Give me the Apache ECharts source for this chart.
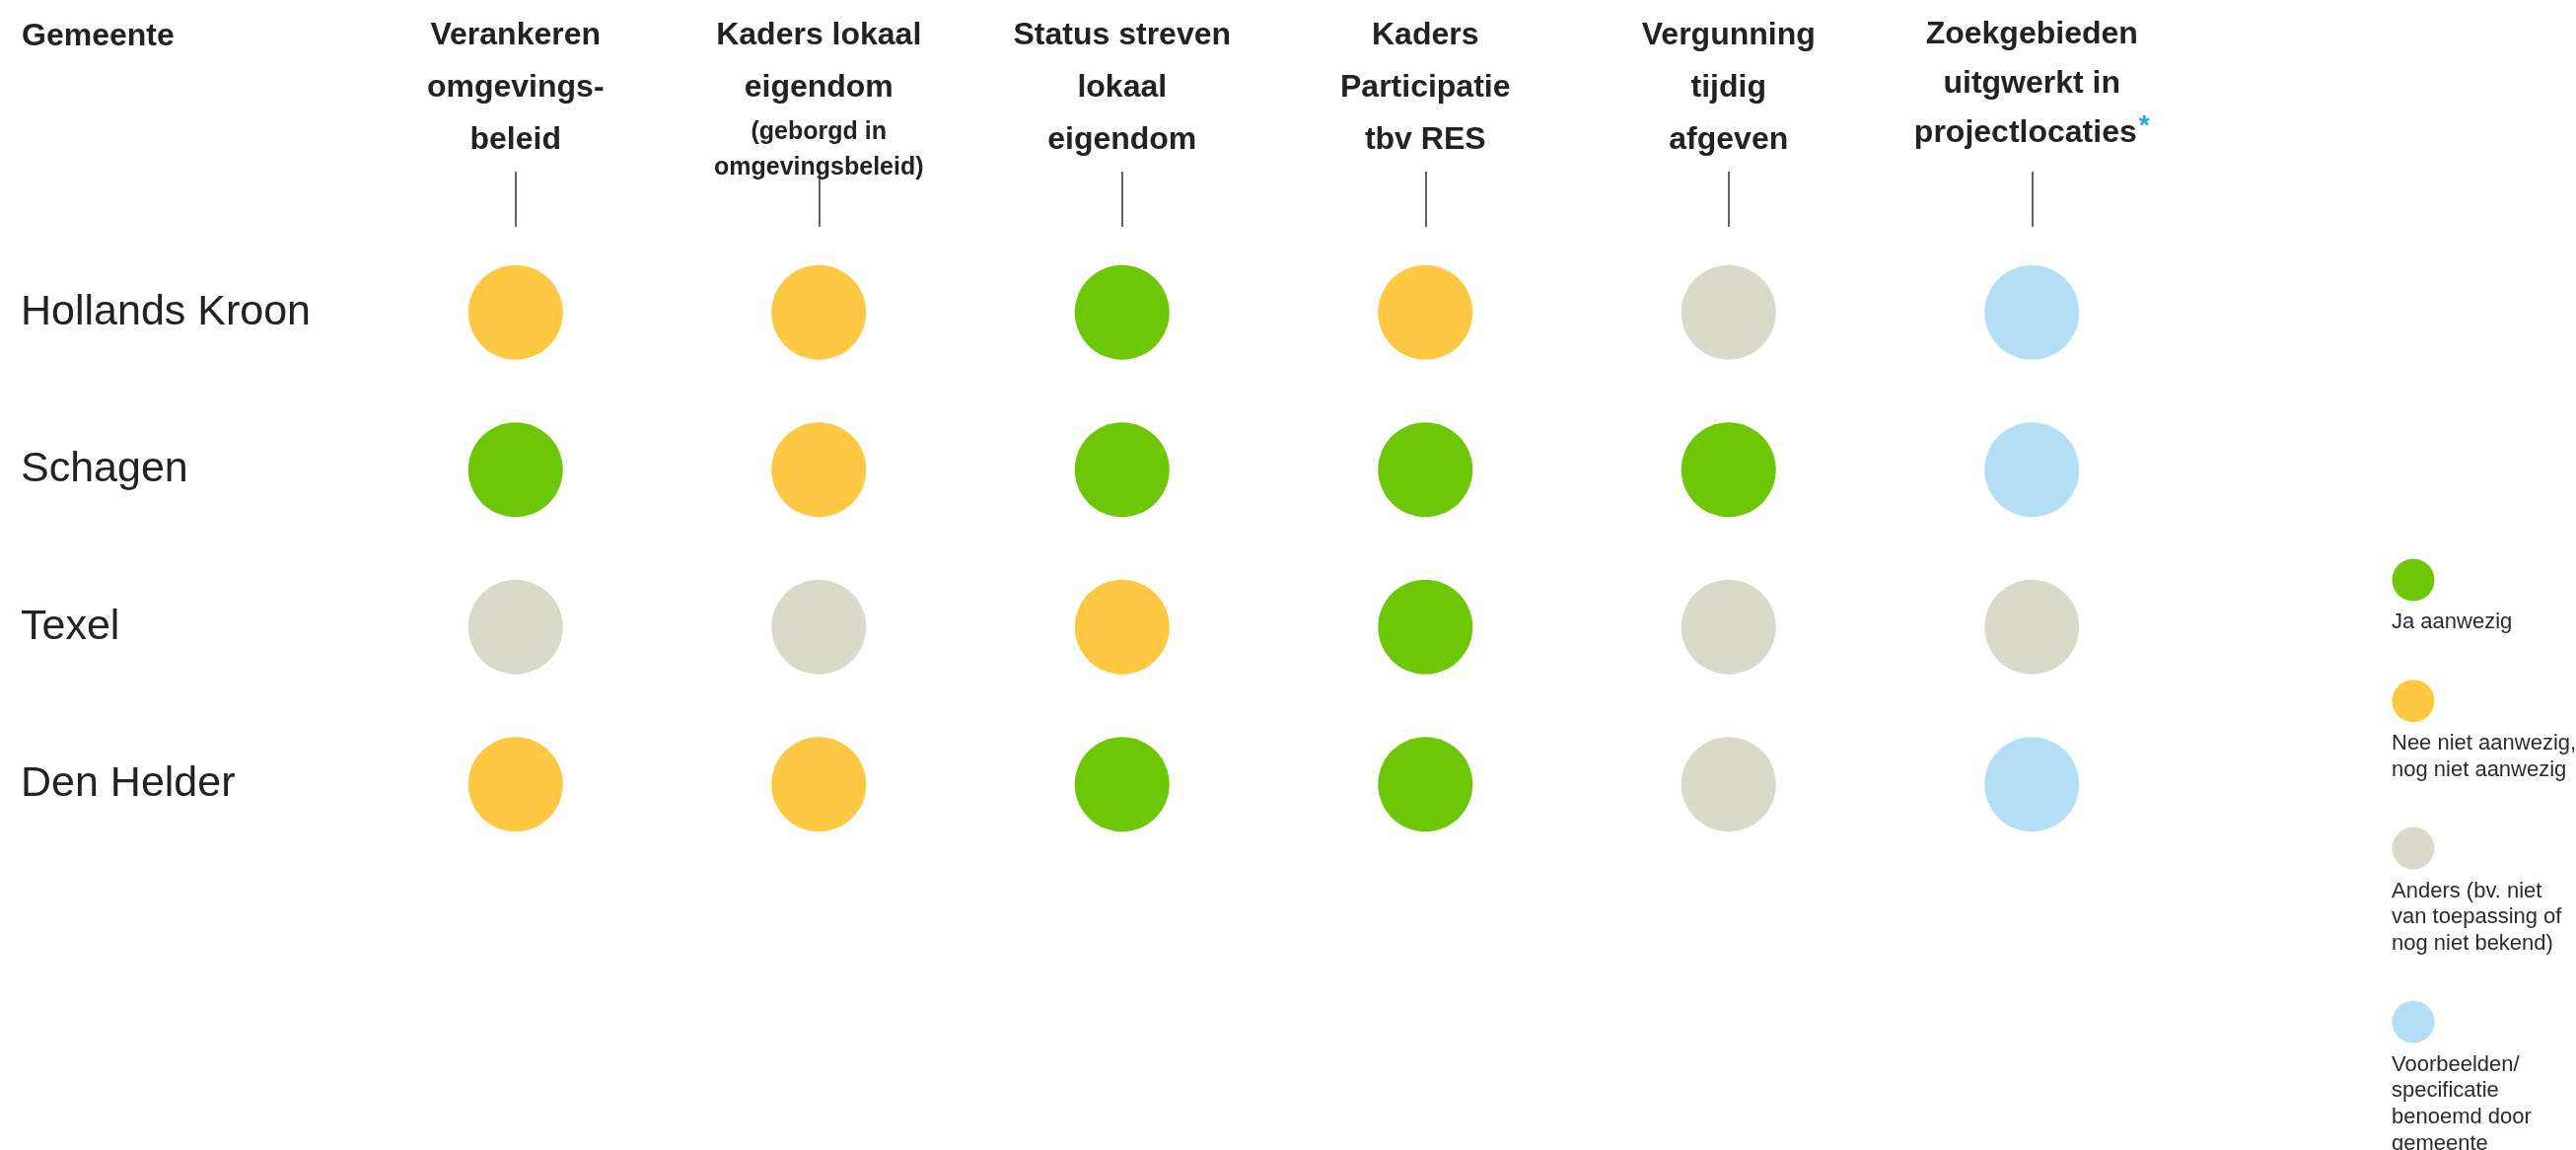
<!DOCTYPE html>
<html>
<head>
<meta charset="utf-8">
<script src="https://cdn.jsdelivr.net/npm/echarts@6/dist/echarts.min.js"></script>
<style>
html,body{margin:0;padding:0;background:#fff;}
#chart{width:2612px;height:1166px;}
</style>
</head>
<body>
<div id="chart"></div>
<script>
// ---- data ----
const gemeenten = ['Hollands Kroon', 'Schagen', 'Texel', 'Den Helder'];
const criteria = [
  'Verankeren omgevings-beleid',
  'Kaders lokaal eigendom (geborgd in omgevingsbeleid)',
  'Status streven lokaal eigendom',
  'Kaders Participatie tbv RES',
  'Vergunning tijdig afgeven',
  'Zoekgebieden uitgwerkt in projectlocaties*'
];
const criteriaMain = [
  ['Verankeren', 'omgevings-', 'beleid'],
  ['Kaders lokaal', 'eigendom'],
  ['Status streven', 'lokaal', 'eigendom'],
  ['Kaders', 'Participatie', 'tbv RES'],
  ['Vergunning', 'tijdig', 'afgeven'],
  ['Zoekgebieden', 'uitgwerkt in', 'projectlocaties']
];
const criteriaSub = [[], ['(geborgd in', 'omgevingsbeleid)'], [], [], [], []];
const criteriaStar = [false, false, false, false, false, true];

const statusKeys = ['ja', 'nee', 'anders', 'voorbeeld'];
const statusLabels = [
  'Ja aanwezig',
  'Nee niet aanwezig,\nnog niet aanwezig',
  'Anders (bv. niet\nvan toepassing of\nnog niet bekend)',
  'Voorbeelden/\nspecificatie\nbenoemd door\ngemeente'
];
const statusColors = ['#6EC706', '#FEC843', '#DADACA', '#B4DEF6'];

const hollandsKroon = ['nee', 'nee', 'ja', 'nee', 'anders', 'voorbeeld'];
const schagen       = ['ja', 'nee', 'ja', 'ja', 'ja', 'voorbeeld'];
const texel         = ['anders', 'anders', 'nee', 'ja', 'anders', 'anders'];
const denHelder     = ['nee', 'nee', 'ja', 'ja', 'anders', 'voorbeeld'];
const matrix = [hollandsKroon, schagen, texel, denHelder];

// ---- build ----
const series = statusKeys.map((key, si) => {
  const data = [];
  matrix.forEach((row, ri) => {
    row.forEach((s, ci) => { if (s === key) data.push([ci, ri]); });
  });
  return {
    name: statusLabels[si],
    type: 'scatter',
    data: data,
    symbol: 'circle',
    symbolSize: 96,
    itemStyle: { color: statusColors[si], opacity: 1 },
    emphasis: { disabled: true }
  };
});

// legend drawn as graphic (icon above text)
const legendGraphic = [];
const legendX = 2425;
const legendGaps = [44, 44, 44];
let ly = 566;
statusLabels.forEach((lab, i) => {
  const lines = lab.split('\n').length;
  legendGraphic.push({
    type: 'circle',
    shape: { cx: legendX + 22, cy: ly + 22, r: 21.5 },
    style: { fill: statusColors[i] }
  });
  legendGraphic.push({
    type: 'text',
    x: legendX, y: ly + 52,
    style: {
      text: lab, fill: '#2b2b2b',
      font: '22px "Liberation Sans", Arial, sans-serif',
      lineHeight: 26.7
    }
  });
  ly += 52 + lines * 26.7 + (legendGaps[i] || 0);
});

const FONT = '"Liberation Sans", Arial, sans-serif';
const chart = echarts.init(document.getElementById('chart'), null, { renderer: 'canvas' });
chart.setOption({
  backgroundColor: '#ffffff',
  animation: false,
  title: {
    text: 'Gemeente',
    left: 17, top: 16,
    textStyle: { fontFamily: FONT, fontSize: 32, fontWeight: 'bold', color: '#222' }
  },
  grid: { left: 369, top: 237, width: 1845, height: 638, containLabel: false },
  xAxis: {
    type: 'category',
    position: 'top',
    offset: 7,
    data: criteria,
    axisLine: { show: false },
    axisTick: { show: true, alignWithLabel: true, length: 56, lineStyle: { color: '#333', width: 1.5 } },
    splitLine: { show: false },
    axisLabel: {
      interval: 0,
      margin: 220,
      verticalAlign: 'top',
      align: 'center',
      formatter: function (v, idx) {
        const tag = criteriaStar[idx] ? 'u' : 't';
        const parts = criteriaMain[idx].map(l => '{' + tag + '|' + l + '}');
        if (criteriaStar[idx]) parts[parts.length - 1] += '{star|*}';
        criteriaSub[idx].forEach(l => parts.push('{s|' + l + '}'));
        return parts.join('\n');
      },
      rich: {
        t: { fontFamily: FONT, fontSize: 32, fontWeight: 'bold', color: '#222', lineHeight: 53, align: 'center' },
        u: { fontFamily: FONT, fontSize: 32, fontWeight: 'bold', color: '#222', lineHeight: 50, align: 'center' },
        s: { fontFamily: FONT, fontSize: 25, fontWeight: 'bold', color: '#222', lineHeight: 36, align: 'center' },
        star: { fontFamily: FONT, fontSize: 28, fontWeight: 'bold', color: '#2AA3DD', lineHeight: 50, padding: [0, 0, 14, 2] }
      }
    }
  },
  yAxis: {
    type: 'category',
    inverse: true,
    data: gemeenten,
    axisLine: { show: false },
    axisTick: { show: false },
    splitLine: { show: false },
    axisLabel: {
      align: 'left',
      margin: 348,
      fontFamily: FONT,
      fontSize: 43,
      color: '#222'
    }
  },
  series: series,
  graphic: legendGraphic
});
</script>
</body>
</html>
